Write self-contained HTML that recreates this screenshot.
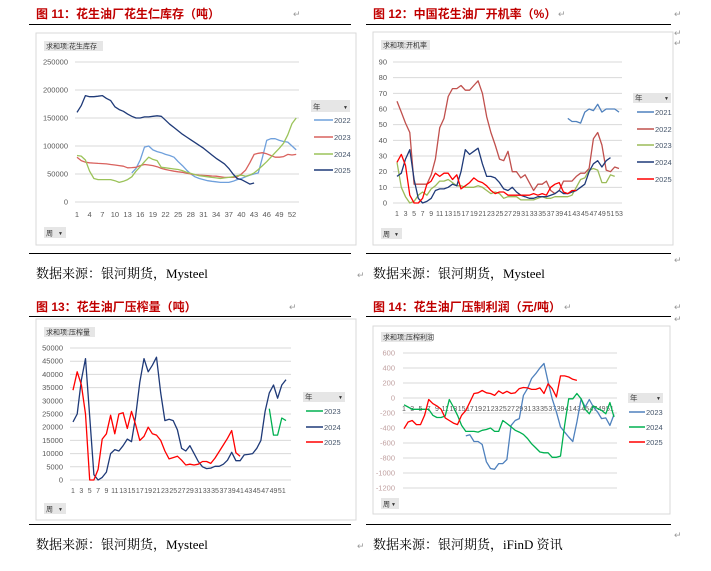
<!DOCTYPE html>
<html><head><meta charset="utf-8">
<style>
html,body{margin:0;padding:0;background:#fff;}
svg{display:block;}
.t{font-family:"Liberation Sans","Noto Sans CJK SC",sans-serif;}
.s{font-family:"Liberation Serif","Noto Serif CJK SC",serif;}
</style></head>
<body>
<svg id="page" width="711" height="571" viewBox="0 0 711 571" xmlns="http://www.w3.org/2000/svg">
<g id="static"></g>
</svg>
<script>
// ===== Chart 1 data: peanut kernel inventory (tons) =====
const c1Weeks = Array.from({length:53},(_,i)=>i+1);
const c1Ticks = [0,50000,100000,150000,200000,250000];
const c1XLabels = [1,4,7,10,13,16,19,22,25,28,31,34,37,40,43,46,49,52];
const c1Years = ["2022","2023","2024","2025"];
const c1S2022 = [null,null,null,null,null,null,null,null,null,null,null,null,null,52000,60000,75000,98000,100000,93000,90000,88000,85000,83000,80000,72000,65000,57000,50000,45000,42000,40000,38000,37000,36000,35000,35000,35000,37000,40000,42000,45000,48000,50000,52000,80000,110000,113000,113000,110000,108000,107000,100000,93000];
const c1S2023 = [80000,74000,71000,70000,69500,69000,68500,68000,67000,66000,65000,64000,61000,61500,62000,65000,67000,66000,65000,63000,60000,58000,56500,55000,54000,53000,51500,50000,49000,48000,47500,47000,46500,46000,45000,44000,44000,44000,45000,50000,57000,70000,85000,87000,88000,86000,83000,80000,80000,81000,85000,84000,85000];
const c1S2024 = [83000,82000,75000,55000,42000,40000,40000,40000,40000,38000,35000,37000,40000,45000,55000,63000,72000,80000,76000,74000,62000,61000,60000,59000,58000,56000,53000,51000,49000,47000,46000,45000,44000,43000,42000,43000,44000,45000,47000,48000,46000,48000,52000,58000,65000,72000,80000,88000,96000,105000,120000,140000,150000];
const c1S2025 = [160000,172000,190000,188000,188000,189000,190000,185000,181000,170000,165000,162000,157000,153000,150000,150000,152000,152000,153000,154000,153000,146000,139000,133000,127000,121000,116000,111000,106000,101000,96000,90000,84000,78000,73000,68000,60000,50000,42000,40000,36000,32000,34000];

// ===== Chart 2 data: operating rate (%) =====
const c2Weeks = Array.from({length:53},(_,i)=>i+1);
const c2Ticks = [0,10,20,30,40,50,60,70,80,90];
const c2XLabels = [1,3,5,7,9,11,13,15,17,19,21,23,25,27,29,31,33,35,37,39,41,43,45,47,49,51,53];
const c2Years = ["2021","2022","2023","2024","2025"];
const c2S2021 = [null,null,null,null,null,null,null,null,null,null,null,null,null,null,null,null,null,null,null,null,null,null,null,null,null,null,null,null,null,null,null,null,null,null,null,null,null,null,null,null,54,52,52,51,58,60,59,63,58,60,60,60,58];
const c2S2022 = [65,58,51,45,12,12,12,12,18,28,48,54,68,73,73,75,72,72,75,78,70,55,45,37,28,27,33,20,20,16,18,13,8,12,12,14,8,6,8,14,14,14,17,19,19,22,41,45,37,21,20,23,22];
const c2S2023 = [26,10,4,0,1,5,7,5,9,11,14,14,15,13,11,11,10,10,10,11,10,8,6,7,6,3,4,4,4,2,2,2,2,3,4,3,3,4,4,4,4,5,10,15,16,21,22,21,13,13,18,17];
const c2S2024 = [17,19,28,34,15,3,0,1,3,8,9,9,10,12,11,20,34,31,33,35,25,17,17,16,13,9,8,10,7,5,4,3,3,4,4,4,5,6,8,6,6,7,8,10,12,20,25,27,23,27,29];
const c2S2025 = [26,31,24,5,0,0,3,12,14,19,17,19,19,15,18,9,11,13,16,14,13,11,8,6,7,7,5,5,5,5,5,5,6,5,6,5,10,12,13,7,6,8,8];

// ===== Chart 3 data: crushing volume (tons) =====
const c3Weeks = Array.from({length:52},(_,i)=>i+1);
const c3Ticks = [0,5000,10000,15000,20000,25000,30000,35000,40000,45000,50000];
const c3XLabels = [1,3,5,7,9,11,13,15,17,19,21,23,25,27,29,31,33,35,37,39,41,43,45,47,49,51];
const c3Years = ["2023","2024","2025"];
const c3S2023 = [null,null,null,null,null,null,null,null,null,null,null,null,null,null,null,null,null,null,null,null,null,null,null,null,null,null,null,null,null,null,null,null,null,null,null,null,null,null,null,null,null,null,null,null,null,null,null,27000,17000,17000,23500,22500];
const c3S2024 = [22000,25000,38000,46000,24000,2000,0,1000,3000,10000,11500,11000,13000,15500,14500,24000,37000,46000,41000,43500,46500,33000,22500,23000,22500,19000,12000,11000,13000,10000,7000,5000,4300,4500,5200,5200,6000,7500,10500,7300,7300,9500,9700,10000,12000,15000,26000,33000,36000,31000,36000,38000];
const c3S2025 = [34000,41000,36000,25000,0,0,4000,15500,17500,24500,17500,25000,25500,19500,26000,21000,15000,16500,20000,17500,17000,15000,11000,8000,8500,9000,7500,5700,6000,5700,6000,7000,7000,6300,8300,10800,13300,15800,18700,10300,9000];

// ===== Chart 4 data: crushing profit (yuan/ton) =====
const c4Weeks = Array.from({length:52},(_,i)=>i+1);
const c4Ticks = [-1200,-1000,-800,-600,-400,-200,0,200,400,600];
const c4XLabels = [1,3,5,7,9,11,13,15,17,19,21,23,25,27,29,31,33,35,37,39,41,43,45,47,49,51];
const c4Years = ["2023","2024","2025"];
const c4S2023 = [null,null,null,null,null,null,null,null,null,null,null,null,null,null,null,-505,-490,-580,-580,-620,-850,-940,-950,-875,-875,-820,-365,-300,-275,35,125,260,325,400,460,215,-10,-185,-385,-455,-520,-580,-320,-10,-120,-20,-120,-185,-275,-265,-365,-220];
const c4S2024 = [-90,-120,-150,-150,-150,-150,-150,-230,-260,-260,-240,-20,-120,-230,-365,-445,-445,-445,-455,-430,-420,-400,-445,-445,-300,-340,-385,-430,-455,-485,-540,-610,-665,-720,-730,-730,-790,-790,-775,-365,-10,-10,60,-10,-150,-210,-105,-140,-165,-210,-60,-255];
const c4S2025 = [-409,-320,-300,-355,-355,-230,-20,-75,-105,-150,-265,-300,-335,-355,-230,-165,-55,60,70,100,70,60,35,95,60,90,60,70,125,140,135,115,115,135,60,190,125,15,295,295,280,250,235];

const NS="http://www.w3.org/2000/svg";
const root=document.getElementById('static');
function el(tag,attrs,parent,text){const e=document.createElementNS(NS,tag);for(const k in attrs)e.setAttribute(k,attrs[k]);if(text!==undefined)e.textContent=text;(parent||root).appendChild(e);return e;}

function chart(cfg){
  const g=el('g',{});
  
  
  const p=cfg.panel;
  const bg=el('rect',{x:p[0],y:p[1],width:p[2],height:p[3],fill:'#fff',stroke:'#d9d9d9','stroke-width':1},g);
  
  
  const xs=w=>cfg.x0+(w-cfg.w0)*(cfg.x1-cfg.x0)/(cfg.w1-cfg.w0);
  const ys=v=>cfg.y0+(v-cfg.v0)*(cfg.y1-cfg.y0)/(cfg.v1-cfg.v0);
  cfg.ticks.forEach(t=>{
    const l=el('line',{x1:cfg.gx0,x2:cfg.gx1,y1:ys(t),y2:ys(t),stroke:'#d9d9d9','stroke-width':1},g);
    
    
    const tx=el('text',{x:cfg.ylx,y:ys(t)+2.5,'text-anchor':'end','font-size':cfg.fs||7.5,fill:cfg.ycol||'#595959',class:'t'},g,String(t));
    
    
  });
  cfg.xlabels.forEach(w=>{
    const tx=el('text',{x:xs(w),y:cfg.xly,'text-anchor':'middle','font-size':cfg.xfs||7.5,fill:'#595959',class:'t'},g,String(w));
    
    
  });
  cfg.series.forEach((s,k)=>{
    let d='',pen=false;
    s.data.forEach((v,i)=>{
      if(v===null||v===undefined){pen=false;return;}
      d+=(pen?'L':'M')+xs(cfg.weeks[i]).toFixed(1)+' '+ys(v).toFixed(1)+' ';pen=true;
    });
    const path=el('path',{d:d,fill:'none',stroke:s.color,'stroke-width':1.3,'stroke-linejoin':'round'},g);
    
    
    const ly=cfg.legY[k];
    const ll=el('line',{x1:cfg.legX,x2:cfg.legX+cfg.legW,y1:ly,y2:ly,stroke:s.color,'stroke-width':1.5},g);
    
    
    const lt=el('text',{x:cfg.legX+cfg.legW+1,y:ly+3,'font-size':7.5,fill:'#44546a',class:'t'},g,s.year);
    
    
  });
  const lb=cfg.legBox;
  const hb=el('rect',{x:lb[0],y:lb[1],width:lb[2],height:lb[3],fill:'#e6e6e6'},g);
  
  
  el('text',{x:lb[0]+2,y:lb[1]+lb[3]-2.5,'font-size':7.5,fill:'#333',class:'t'},g,'年');
  el('text',{x:lb[0]+lb[2]-7,y:lb[1]+lb[3]-3,'font-size':5,fill:'#333',class:'t'},g,'▼');
  const fb=cfg.fieldBtn;
  const f=el('rect',{x:fb[0],y:fb[1],width:fb[2],height:fb[3],fill:'#e6e6e6'},g);
  
  
  el('text',{x:fb[0]+2,y:fb[1]+fb[3]-2.5,'font-size':7,fill:'#333',class:'t'},g,cfg.fieldText);
  const wb=cfg.weekBtn;
  const w=el('rect',{x:wb[0],y:wb[1],width:wb[2],height:wb[3],fill:'#e6e6e6'},g);
  
  
  el('text',{x:wb[0]+2,y:wb[1]+wb[3]-2.5,'font-size':7,fill:'#333',class:'t'},g,'周');
  el('text',{x:wb[0]+wb[2]-8,y:wb[1]+wb[3]-3,'font-size':5,fill:'#333',class:'t'},g,'▼');
}

function mark(x,y){el('text',{x:x,y:y,'font-size':9,fill:'#999',class:'t'},root,'↵');}

function frame(x,title,ty,r1,r2,src,sy,rx0,rx1){
  const t=el('text',{x:x,y:ty,'font-size':12,'font-weight':'bold',fill:'#c00000',class:'t'},root,title);
  
  
  const a=el('line',{x1:rx0,x2:rx1,y1:r1,y2:r1,stroke:'#000','stroke-width':1},root);
  
  
  const b=el('line',{x1:rx0,x2:rx1,y1:r2,y2:r2,stroke:'#000','stroke-width':1},root);
  
  
  const s=el('text',{x:x,y:sy,'font-size':13,fill:'#000',class:'s'},root,src);
  
  
}

frame(36,'图 11：花生油厂花生仁库存（吨）',18,24.5,253.5,'数据来源：银河期货，Mysteel',278,29,351);
frame(373,'图 12：中国花生油厂开机率（%）',18,24.5,253.5,'数据来源：银河期货，Mysteel',278,366,671);
frame(36,'图 13：花生油厂压榨量（吨）',311,316.5,524.5,'数据来源：银河期货，Mysteel',549,29,351);
frame(373,'图 14：花生油厂压制利润（元/吨）',311,316.5,524.5,'数据来源：银河期货，iFinD 资讯',549,366,671);
mark(293,17);mark(558,17);mark(674,17);mark(674,36);mark(357,278);mark(674,263);mark(289,310);mark(564,310);mark(674,310);mark(674,46);mark(674,322);mark(674,538);mark(357,549);

chart({name:'inventory-chart',panel:[36,33,320,212],x0:77,x1:292,w0:1,w1:52,y0:202,y1:62,v0:0,v1:250000,gx0:75,gx1:299,ylx:68,xly:217,
  ticks:c1Ticks,xlabels:c1XLabels,weeks:c1Weeks,
  series:[{year:c1Years[0],data:c1S2022,color:'#6fa0dc'},{year:c1Years[1],data:c1S2023,color:'#d9625e'},{year:c1Years[2],data:c1S2024,color:'#9bc35a'},{year:c1Years[3],data:c1S2025,color:'#1f3a78'}],
  legX:314,legW:19,legY:[120,137,154,170],legBox:[311,100,39,12],fieldBtn:[44,41,59,10],fieldText:'求和项:花生库存',weekBtn:[44,227,22,11]});

chart({name:'operating-rate-chart',panel:[373,32,300,213],x0:397,x1:619,w0:1,w1:53,y0:203,y1:62,v0:0,v1:90,gx0:393,gx1:622,ylx:387,xly:216,xfs:7,
  ticks:c2Ticks,xlabels:c2XLabels,weeks:c2Weeks,
  series:[{year:c2Years[0],data:c2S2021,color:'#4f81bd'},{year:c2Years[1],data:c2S2022,color:'#c0504d'},{year:c2Years[2],data:c2S2023,color:'#9bbb59'},{year:c2Years[3],data:c2S2024,color:'#1f3a78'},{year:c2Years[4],data:c2S2025,color:'#ff0000'}],
  legX:637,legW:17,legY:[112,129,145,162,179],legBox:[633,93,38,10],fieldBtn:[381,40,49,10],fieldText:'求和项:开机率',weekBtn:[381,228,21,11]});

chart({name:'crushing-volume-chart',panel:[36,319,320,201],x0:73,x1:286,w0:1,w1:52,y0:480,y1:348,v0:0,v1:50000,gx0:70,gx1:291,ylx:63,xly:493,xfs:7,
  ticks:c3Ticks,xlabels:c3XLabels,weeks:c3Weeks,
  series:[{year:c3Years[0],data:c3S2023,color:'#00b050'},{year:c3Years[1],data:c3S2024,color:'#1f3a78'},{year:c3Years[2],data:c3S2025,color:'#ff0000'}],
  legX:306,legW:17,legY:[411,427,442],legBox:[303,392,42,10],fieldBtn:[44,327,51,10],fieldText:'求和项:压榨量',weekBtn:[44,503,22,11]});

chart({name:'crushing-profit-chart',panel:[373,326,297,188],x0:404,x1:614,w0:1,w1:52,y0:398,y1:353,v0:0,v1:600,gx0:403,gx1:617,ylx:395,xly:411,xfs:7,ycol:'#c0a0a0',
  ticks:c4Ticks,xlabels:c4XLabels,weeks:c4Weeks,
  series:[{year:c4Years[0],data:c4S2023,color:'#4f81bd'},{year:c4Years[1],data:c4S2024,color:'#00b050'},{year:c4Years[2],data:c4S2025,color:'#ff0000'}],
  legX:629,legW:16,legY:[412,427,442],legBox:[628,393,35,10],fieldBtn:[381,332,51,10],fieldText:'求和项:压榨利润',weekBtn:[381,498,18,11]});
</script>
</body></html>
